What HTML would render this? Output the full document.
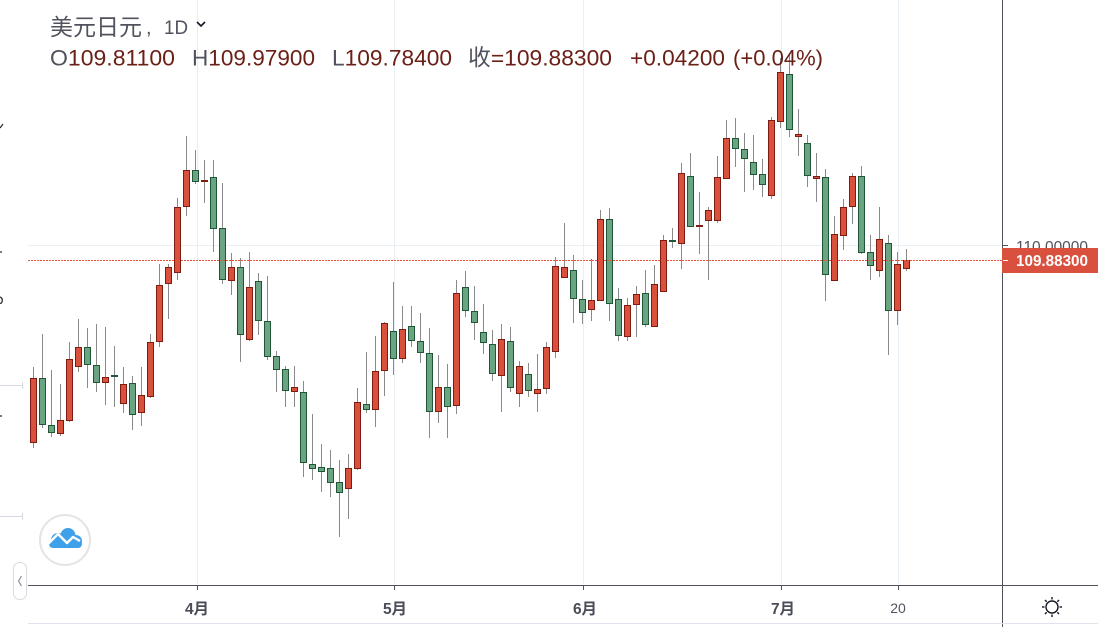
<!DOCTYPE html>
<html>
<head>
<meta charset="utf-8">
<style>
html,body{margin:0;padding:0;background:#fff;}
body{width:1098px;height:627px;overflow:hidden;}
svg{display:block;}
.w{stroke:#8a8a8a;stroke-width:1;}
.R{fill:#d9503d;stroke:#7e1c12;stroke-width:1;}
.G{fill:#6aa483;stroke:#1f5636;stroke-width:1;}
.t{font-family:"Liberation Sans","Noto Sans CJK SC",sans-serif;}
</style>
</head>
<body>
<svg width="1098" height="627" viewBox="0 0 1098 627" xmlns="http://www.w3.org/2000/svg">
<rect width="1098" height="627" fill="#fff"/>
<!-- grid -->
<g stroke="#e8eff5" stroke-width="1">
<line x1="197.5" y1="0" x2="197.5" y2="585"/>
<line x1="394.5" y1="0" x2="394.5" y2="585"/>
<line x1="583.5" y1="0" x2="583.5" y2="585"/>
<line x1="781.5" y1="0" x2="781.5" y2="585"/>
<line x1="898.5" y1="0" x2="898.5" y2="585"/>
<line x1="28" y1="245.5" x2="1002" y2="245.5"/>
</g>
<!-- left panel -->
<g stroke="#d6dae3" stroke-width="1">
<line x1="0" y1="385.5" x2="22" y2="385.5"/>
<line x1="22.5" y1="382" x2="22.5" y2="389"/>
<line x1="0" y1="516.5" x2="22" y2="516.5"/>
<line x1="22.5" y1="513" x2="22.5" y2="520"/>
</g>
<g stroke="#222" stroke-width="1.2" fill="none">
<path d="M0,128 L3,124"/>
<path d="M0,252 L2,252"/>
<path d="M0,297 Q3,298 2,302 Q1,304 0,303"/>
<path d="M0,416 L2,416"/>
</g>
<!-- candles -->
<g>
<line class="w" x1="33.5" y1="367" x2="33.5" y2="448"/><rect class="R" x="30.5" y="378.5" width="6" height="64"/>
<line class="w" x1="42.5" y1="334" x2="42.5" y2="428"/><rect class="G" x="39.5" y="378.5" width="6" height="46"/>
<line class="w" x1="51.5" y1="370" x2="51.5" y2="437"/><rect class="G" x="48.5" y="425.5" width="6" height="7"/>
<line class="w" x1="60.5" y1="384" x2="60.5" y2="436"/><rect class="R" x="57.5" y="420.5" width="6" height="13"/>
<line class="w" x1="69.5" y1="342" x2="69.5" y2="422"/><rect class="R" x="66.5" y="359.5" width="6" height="61"/>
<line class="w" x1="78.5" y1="319" x2="78.5" y2="372"/><rect class="R" x="75.5" y="347.5" width="6" height="19"/>
<line class="w" x1="87.5" y1="328" x2="87.5" y2="388"/><rect class="G" x="84.5" y="347.5" width="6" height="17"/>
<line class="w" x1="96.5" y1="324" x2="96.5" y2="392"/><rect class="G" x="93.5" y="365.5" width="6" height="17"/>
<line class="w" x1="105.5" y1="327" x2="105.5" y2="405"/><rect class="R" x="102.5" y="377.5" width="6" height="5"/>
<line class="w" x1="114.5" y1="346" x2="114.5" y2="407"/><rect x="111" y="375" width="7" height="2" fill="#1f5636"/>
<line class="w" x1="123.5" y1="367" x2="123.5" y2="413"/><rect class="R" x="120.5" y="384.5" width="6" height="19"/>
<line class="w" x1="132.5" y1="376" x2="132.5" y2="430"/><rect class="G" x="129.5" y="383.5" width="6" height="31"/>
<line class="w" x1="141.5" y1="367" x2="141.5" y2="426"/><rect class="R" x="138.5" y="395.5" width="6" height="17"/>
<line class="w" x1="150.5" y1="334" x2="150.5" y2="398"/><rect class="R" x="147.5" y="342.5" width="6" height="54"/>
<line class="w" x1="159.5" y1="264" x2="159.5" y2="347"/><rect class="R" x="156.5" y="285.5" width="6" height="56"/>
<line class="w" x1="168.5" y1="264" x2="168.5" y2="319"/><rect class="R" x="165.5" y="267.5" width="6" height="16"/>
<line class="w" x1="177.5" y1="198" x2="177.5" y2="280"/><rect class="R" x="174.5" y="207.5" width="6" height="65"/>
<line class="w" x1="186.5" y1="136" x2="186.5" y2="216"/><rect class="R" x="183.5" y="170.5" width="6" height="36"/>
<line class="w" x1="195.5" y1="150" x2="195.5" y2="184"/><rect class="G" x="192.5" y="170.5" width="6" height="11"/>
<line class="w" x1="204.5" y1="160" x2="204.5" y2="203"/><rect x="201" y="180" width="7" height="2" fill="#7e1c12"/>
<line class="w" x1="213.5" y1="160" x2="213.5" y2="252"/><rect class="G" x="210.5" y="177.5" width="6" height="51"/>
<line class="w" x1="222.5" y1="183" x2="222.5" y2="284"/><rect class="G" x="219.5" y="228.5" width="6" height="51"/>
<line class="w" x1="231.5" y1="253" x2="231.5" y2="295"/><rect class="R" x="228.5" y="267.5" width="6" height="13"/>
<line class="w" x1="240.5" y1="258" x2="240.5" y2="362"/><rect class="G" x="237.5" y="267.5" width="6" height="67"/>
<line class="w" x1="249.5" y1="252" x2="249.5" y2="341"/><rect class="R" x="246.5" y="287.5" width="6" height="52"/>
<line class="w" x1="258.5" y1="273" x2="258.5" y2="335"/><rect class="G" x="255.5" y="281.5" width="6" height="39"/>
<line class="w" x1="267.5" y1="276" x2="267.5" y2="360"/><rect class="G" x="264.5" y="321.5" width="6" height="35"/>
<line class="w" x1="276.5" y1="351" x2="276.5" y2="392"/><rect class="G" x="273.5" y="356.5" width="6" height="13"/>
<line class="w" x1="285.5" y1="366" x2="285.5" y2="407"/><rect class="G" x="282.5" y="369.5" width="6" height="21"/>
<line class="w" x1="294.5" y1="366" x2="294.5" y2="407"/><rect class="R" x="291.5" y="387.5" width="6" height="4"/>
<line class="w" x1="303.5" y1="381" x2="303.5" y2="477"/><rect class="G" x="300.5" y="392.5" width="6" height="70"/>
<line class="w" x1="312.5" y1="414" x2="312.5" y2="480"/><rect class="G" x="309.5" y="464.5" width="6" height="4"/>
<line class="w" x1="321.5" y1="444" x2="321.5" y2="492"/><rect class="G" x="318.5" y="467.5" width="6" height="4"/>
<line class="w" x1="330.5" y1="450" x2="330.5" y2="497"/><rect class="G" x="327.5" y="468.5" width="6" height="14"/>
<line class="w" x1="339.5" y1="460" x2="339.5" y2="537"/><rect class="G" x="336.5" y="482.5" width="6" height="10"/>
<line class="w" x1="348.5" y1="454" x2="348.5" y2="519"/><rect class="R" x="345.5" y="468.5" width="6" height="20"/>
<line class="w" x1="357.5" y1="388" x2="357.5" y2="470"/><rect class="R" x="354.5" y="402.5" width="6" height="66"/>
<line class="w" x1="366.5" y1="352" x2="366.5" y2="413"/><rect class="G" x="363.5" y="404.5" width="6" height="5"/>
<line class="w" x1="375.5" y1="336" x2="375.5" y2="427"/><rect class="R" x="372.5" y="371.5" width="6" height="38"/>
<line class="w" x1="384.5" y1="322" x2="384.5" y2="396"/><rect class="R" x="381.5" y="323.5" width="6" height="47"/>
<line class="w" x1="393.5" y1="282" x2="393.5" y2="375"/><rect class="G" x="390.5" y="331.5" width="6" height="27"/>
<line class="w" x1="402.5" y1="306" x2="402.5" y2="363"/><rect class="R" x="399.5" y="329.5" width="6" height="29"/>
<line class="w" x1="411.5" y1="306" x2="411.5" y2="347"/><rect class="G" x="408.5" y="326.5" width="6" height="14"/>
<line class="w" x1="420.5" y1="313" x2="420.5" y2="363"/><rect class="G" x="417.5" y="341.5" width="6" height="11"/>
<line class="w" x1="429.5" y1="328" x2="429.5" y2="438"/><rect class="G" x="426.5" y="353.5" width="6" height="58"/>
<line class="w" x1="438.5" y1="355" x2="438.5" y2="423"/><rect class="R" x="435.5" y="387.5" width="6" height="24"/>
<line class="w" x1="447.5" y1="364" x2="447.5" y2="438"/><rect class="G" x="444.5" y="387.5" width="6" height="19"/>
<line class="w" x1="456.5" y1="280" x2="456.5" y2="414"/><rect class="R" x="453.5" y="293.5" width="6" height="112"/>
<line class="w" x1="465.5" y1="271" x2="465.5" y2="317"/><rect class="G" x="462.5" y="287.5" width="6" height="23"/>
<line class="w" x1="474.5" y1="286" x2="474.5" y2="340"/><rect class="G" x="471.5" y="311.5" width="6" height="11"/>
<line class="w" x1="483.5" y1="304" x2="483.5" y2="354"/><rect class="G" x="480.5" y="332.5" width="6" height="10"/>
<line class="w" x1="492.5" y1="330" x2="492.5" y2="381"/><rect class="G" x="489.5" y="344.5" width="6" height="29"/>
<line class="w" x1="501.5" y1="324" x2="501.5" y2="412"/><rect class="R" x="498.5" y="339.5" width="6" height="36"/>
<line class="w" x1="510.5" y1="327" x2="510.5" y2="392"/><rect class="G" x="507.5" y="341.5" width="6" height="46"/>
<line class="w" x1="519.5" y1="361" x2="519.5" y2="407"/><rect class="R" x="516.5" y="366.5" width="6" height="27"/>
<line class="w" x1="528.5" y1="363" x2="528.5" y2="397"/><rect class="G" x="525.5" y="374.5" width="6" height="16"/>
<line class="w" x1="537.5" y1="354" x2="537.5" y2="412"/><rect class="R" x="534.5" y="389.5" width="6" height="4"/>
<line class="w" x1="546.5" y1="342" x2="546.5" y2="394"/><rect class="R" x="543.5" y="347.5" width="6" height="41"/>
<line class="w" x1="555.5" y1="257" x2="555.5" y2="358"/><rect class="R" x="552.5" y="266.5" width="6" height="85"/>
<line class="w" x1="564.5" y1="223" x2="564.5" y2="278"/><rect class="R" x="561.5" y="267.5" width="6" height="10"/>
<line class="w" x1="573.5" y1="255" x2="573.5" y2="323"/><rect class="G" x="570.5" y="270.5" width="6" height="28"/>
<line class="w" x1="582.5" y1="280" x2="582.5" y2="324"/><rect class="G" x="579.5" y="299.5" width="6" height="13"/>
<line class="w" x1="591.5" y1="259" x2="591.5" y2="321"/><rect class="R" x="588.5" y="300.5" width="6" height="9"/>
<line class="w" x1="600.5" y1="210" x2="600.5" y2="301"/><rect class="R" x="597.5" y="219.5" width="6" height="81"/>
<line class="w" x1="609.5" y1="208" x2="609.5" y2="321"/><rect class="G" x="606.5" y="219.5" width="6" height="84"/>
<line class="w" x1="618.5" y1="288" x2="618.5" y2="341"/><rect class="G" x="615.5" y="299.5" width="6" height="36"/>
<line class="w" x1="627.5" y1="298" x2="627.5" y2="341"/><rect class="R" x="624.5" y="305.5" width="6" height="31"/>
<line class="w" x1="636.5" y1="286" x2="636.5" y2="337"/><rect class="R" x="633.5" y="294.5" width="6" height="10"/>
<line class="w" x1="645.5" y1="270" x2="645.5" y2="327"/><rect class="G" x="642.5" y="293.5" width="6" height="31"/>
<line class="w" x1="654.5" y1="265" x2="654.5" y2="327"/><rect class="R" x="651.5" y="284.5" width="6" height="42"/>
<line class="w" x1="663.5" y1="235" x2="663.5" y2="292"/><rect class="R" x="660.5" y="240.5" width="6" height="51"/>
<line class="w" x1="672.5" y1="228" x2="672.5" y2="248"/><rect x="669" y="240" width="7" height="2" fill="#1f5636"/>
<line class="w" x1="681.5" y1="163" x2="681.5" y2="269"/><rect class="R" x="678.5" y="173.5" width="6" height="70"/>
<line class="w" x1="690.5" y1="153" x2="690.5" y2="227"/><rect class="G" x="687.5" y="176.5" width="6" height="50"/>
<line class="w" x1="699.5" y1="192" x2="699.5" y2="254"/><rect x="696" y="225" width="7" height="2" fill="#7e1c12"/>
<line class="w" x1="708.5" y1="207" x2="708.5" y2="280"/><rect class="R" x="705.5" y="210.5" width="6" height="10"/>
<line class="w" x1="717.5" y1="156" x2="717.5" y2="223"/><rect class="R" x="714.5" y="177.5" width="6" height="43"/>
<line class="w" x1="726.5" y1="120" x2="726.5" y2="179"/><rect class="R" x="723.5" y="138.5" width="6" height="40"/>
<line class="w" x1="735.5" y1="118" x2="735.5" y2="167"/><rect class="G" x="732.5" y="138.5" width="6" height="10"/>
<line class="w" x1="744.5" y1="133" x2="744.5" y2="192"/><rect class="G" x="741.5" y="149.5" width="6" height="9"/>
<line class="w" x1="753.5" y1="135" x2="753.5" y2="190"/><rect class="G" x="750.5" y="162.5" width="6" height="12"/>
<line class="w" x1="762.5" y1="159" x2="762.5" y2="197"/><rect class="G" x="759.5" y="174.5" width="6" height="10"/>
<line class="w" x1="771.5" y1="117" x2="771.5" y2="199"/><rect class="R" x="768.5" y="120.5" width="6" height="75"/>
<line class="w" x1="780.5" y1="58" x2="780.5" y2="128"/><rect class="R" x="777.5" y="72.5" width="6" height="49"/>
<line class="w" x1="789.5" y1="55" x2="789.5" y2="137"/><rect class="G" x="786.5" y="74.5" width="6" height="55"/>
<line class="w" x1="798.5" y1="109" x2="798.5" y2="156"/><rect class="R" x="795.5" y="134.5" width="6" height="2"/>
<line class="w" x1="807.5" y1="135" x2="807.5" y2="187"/><rect class="G" x="804.5" y="143.5" width="6" height="32"/>
<line class="w" x1="816.5" y1="153" x2="816.5" y2="202"/><rect class="R" x="813.5" y="176.5" width="6" height="2"/>
<line class="w" x1="825.5" y1="169" x2="825.5" y2="301"/><rect class="G" x="822.5" y="177.5" width="6" height="97"/>
<line class="w" x1="834.5" y1="216" x2="834.5" y2="281"/><rect class="R" x="831.5" y="234.5" width="6" height="46"/>
<line class="w" x1="843.5" y1="199" x2="843.5" y2="250"/><rect class="R" x="840.5" y="207.5" width="6" height="28"/>
<line class="w" x1="852.5" y1="173" x2="852.5" y2="224"/><rect class="R" x="849.5" y="176.5" width="6" height="30"/>
<line class="w" x1="861.5" y1="166" x2="861.5" y2="254"/><rect class="G" x="858.5" y="176.5" width="6" height="76"/>
<line class="w" x1="870.5" y1="235" x2="870.5" y2="280"/><rect class="G" x="867.5" y="252.5" width="6" height="13"/>
<line class="w" x1="879.5" y1="207" x2="879.5" y2="277"/><rect class="R" x="876.5" y="239.5" width="6" height="31"/>
<line class="w" x1="888.5" y1="235" x2="888.5" y2="355"/><rect class="G" x="885.5" y="243.5" width="6" height="67"/>
<line class="w" x1="897.5" y1="252" x2="897.5" y2="325"/><rect class="R" x="894.5" y="264.5" width="6" height="46"/>
<line class="w" x1="906.5" y1="249" x2="906.5" y2="271"/><rect class="R" x="903.5" y="260.5" width="6" height="8"/>
</g>
<!-- price line -->
<line x1="28" y1="260.5" x2="1002" y2="260.5" stroke="#e4533f" stroke-width="1" stroke-dasharray="2 1"/>
<!-- axes -->
<line x1="1002.5" y1="0" x2="1002.5" y2="627" stroke="#50535e" stroke-width="1"/>
<line x1="28" y1="585.5" x2="1098" y2="585.5" stroke="#50535e" stroke-width="1"/>
<line x1="28" y1="623.5" x2="1098" y2="623.5" stroke="#e0e3eb" stroke-width="1"/>
<g stroke="#50535e" stroke-width="1">
<line x1="197.5" y1="586" x2="197.5" y2="590"/>
<line x1="394.5" y1="586" x2="394.5" y2="590"/>
<line x1="583.5" y1="586" x2="583.5" y2="590"/>
<line x1="781.5" y1="586" x2="781.5" y2="590"/>
<line x1="898.5" y1="586" x2="898.5" y2="590"/>
<line x1="1003" y1="245.5" x2="1008" y2="245.5"/>
</g>
<g class="t" font-size="15.5" font-weight="bold" fill="#4a4d57" text-anchor="middle">
<text x="197" y="614">4月</text>
<text x="395" y="614">5月</text>
<text x="585" y="614">6月</text>
<text x="783" y="614">7月</text>
</g>
<text class="t" x="898" y="613" font-size="14" fill="#50535e" text-anchor="middle">20</text>
<!-- right axis labels -->
<text class="t" x="1016" y="252" font-size="16" fill="#50535e" textLength="72" lengthAdjust="spacingAndGlyphs">110.00000</text>
<rect x="1002" y="248" width="96" height="25" fill="#d9503e"/>
<line x1="1003" y1="260.5" x2="1008" y2="260.5" stroke="#fff" stroke-width="1"/>
<text class="t" x="1016" y="266" font-size="16" font-weight="bold" fill="#fff" textLength="72" lengthAdjust="spacingAndGlyphs">109.88300</text>
<!-- sun icon -->
<g stroke="#131722" stroke-width="1.4" fill="none">
<circle cx="1052" cy="607" r="6"/>
<line x1="1052" y1="597" x2="1052" y2="599.5"/>
<line x1="1052" y1="614.5" x2="1052" y2="617"/>
<line x1="1042" y1="607" x2="1044.5" y2="607"/>
<line x1="1059.5" y1="607" x2="1062" y2="607"/>
<line x1="1045" y1="600" x2="1046.7" y2="601.7"/>
<line x1="1057.3" y1="612.3" x2="1059" y2="614"/>
<line x1="1059" y1="600" x2="1057.3" y2="601.7"/>
<line x1="1046.7" y1="612.3" x2="1045" y2="614"/>
</g>
<!-- logo -->
<circle cx="65" cy="540" r="25" fill="#fff" stroke="#e4e4e4" stroke-width="2"/>
<g fill="#3fa1e9">
<circle cx="58" cy="540" r="7"/>
<circle cx="68" cy="535.5" r="7.5"/>
<circle cx="76" cy="541" r="6"/>
<rect x="49" y="540" width="33" height="8" rx="4"/>
</g>
<polyline points="47,545 58,534 67,543 73,537 80,541" fill="none" stroke="#fff" stroke-width="2.4" stroke-linejoin="round"/>
<!-- collapse button -->
<rect x="13.5" y="562.5" width="13" height="37" rx="6" fill="#fff" stroke="#d8dbe0" stroke-width="1"/>
<path d="M21.5,576 L18.5,581 L21.5,586" fill="none" stroke="#8a8e99" stroke-width="1.2"/>
<!-- header -->
<g class="t">
<text x="50" y="35" font-size="23" fill="#50535e" font-family="'Noto Sans CJK SC','Liberation Sans',sans-serif" textLength="92" lengthAdjust="spacingAndGlyphs">美元日元</text>
<text x="146" y="34" font-size="20" fill="#50535e">,</text>
<text x="164" y="34" font-size="19" fill="#50535e" textLength="24" lengthAdjust="spacingAndGlyphs">1D</text>
<path d="M197,22 L201,26 L205,22" fill="none" stroke="#131722" stroke-width="1.6"/>
<g font-size="22.5">
<text x="50" y="65.5" textLength="125" lengthAdjust="spacingAndGlyphs"><tspan fill="#50535e">O</tspan><tspan fill="#6b2017">109.81100</tspan></text>
<text x="192" y="65.5" textLength="123" lengthAdjust="spacingAndGlyphs"><tspan fill="#50535e">H</tspan><tspan fill="#6b2017">109.97900</tspan></text>
<text x="332" y="65.5" textLength="120" lengthAdjust="spacingAndGlyphs"><tspan fill="#50535e">L</tspan><tspan fill="#6b2017">109.78400</tspan></text>
<text x="468" y="65.5" textLength="144" lengthAdjust="spacingAndGlyphs"><tspan fill="#50535e">收</tspan><tspan fill="#6b2017">=109.88300</tspan></text>
<text x="630" y="65.5" fill="#6b2017" textLength="95" lengthAdjust="spacingAndGlyphs">+0.04200</text>
<text x="733" y="65.5" fill="#6b2017" textLength="90" lengthAdjust="spacingAndGlyphs">(+0.04%)</text>
</g>
</g>
</svg>
</body>
</html>
